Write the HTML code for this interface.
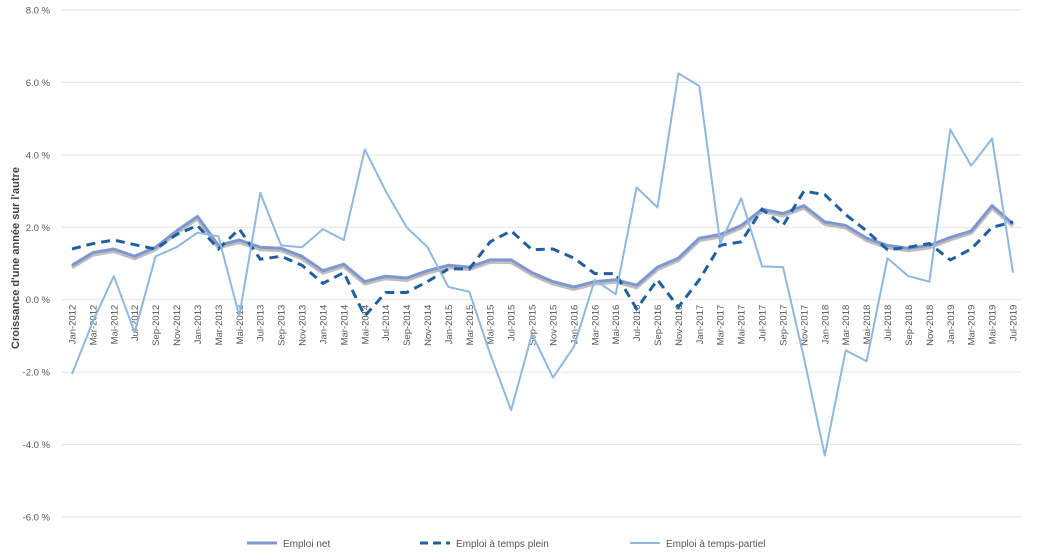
<!DOCTYPE html>
<html><head><meta charset="utf-8"><style>
body{margin:0;background:#fff;font-family:"Liberation Sans",sans-serif;}
svg text{font-family:"Liberation Sans",sans-serif;fill:#555;}
</style></head><body>
<svg id="chart" width="1041" height="555" viewBox="0 0 1041 555" xmlns="http://www.w3.org/2000/svg">
<g id="grid"></g>
<g id="yticks"></g>
<g id="xticks"></g>
<g id="series"></g>
<text transform="translate(19,258) rotate(-90)" text-anchor="middle" font-size="11" font-weight="bold" style="fill:#444">Croissance d'une année sur l'autre</text>
<g>
 <g><line x1="247" y1="543" x2="277" y2="543" stroke="#7f97d0" stroke-width="3"/><text x="283" y="547" font-size="10">Emploi net</text></g>
 <g><line x1="420" y1="543" x2="450" y2="543" stroke="#1f5fa0" stroke-width="3" stroke-dasharray="8,5"/><text x="456" y="547" font-size="10">Emploi à temps plein</text></g>
 <g><line x1="630" y1="543" x2="660" y2="543" stroke="#8fb8e0" stroke-width="2"/><text x="666" y="547" font-size="10">Emploi à temps-partiel</text></g>
</g>
</svg>
<script>
const categories=["Jan-2012","Mar-2012","Mai-2012","Jul-2012","Sep-2012","Nov-2012","Jan-2013","Mar-2013","Mai-2013","Jul-2013","Sep-2013","Nov-2013","Jan-2014","Mar-2014","Mai-2014","Jul-2014","Sep-2014","Nov-2014","Jan-2015","Mar-2015","Mai-2015","Jul-2015","Sep-2015","Nov-2015","Jan-2016","Mar-2016","Mai-2016","Jul-2016","Sep-2016","Nov-2016","Jan-2017","Mar-2017","Mai-2017","Jul-2017","Sep-2017","Nov-2017","Jan-2018","Mar-2018","Mai-2018","Jul-2018","Sep-2018","Nov-2018","Jan-2019","Mar-2019","Mai-2019","Jul-2019"];
const netValues=[0.95,1.3,1.4,1.2,1.45,1.9,2.3,1.5,1.65,1.45,1.42,1.2,0.8,0.98,0.5,0.65,0.6,0.8,0.95,0.9,1.1,1.1,0.75,0.5,0.35,0.5,0.55,0.4,0.9,1.15,1.7,1.8,2.05,2.5,2.38,2.6,2.15,2.05,1.7,1.5,1.42,1.5,1.72,1.9,2.6,2.1];
const fullTimeValues=[1.4,1.55,1.65,1.52,1.4,1.8,2.05,1.4,1.95,1.12,1.2,0.95,0.45,0.75,-0.45,0.2,0.2,0.5,0.85,0.85,1.6,1.9,1.38,1.4,1.15,0.72,0.72,-0.25,0.55,-0.2,0.55,1.5,1.6,2.5,2.05,3.0,2.9,2.35,1.9,1.38,1.45,1.55,1.1,1.4,2.0,2.15];
const partTimeValues=[-2.05,-0.6,0.65,-0.9,1.2,1.45,1.85,1.75,-0.45,2.95,1.5,1.45,1.95,1.65,4.15,3.0,2.0,1.45,0.35,0.22,-1.5,-3.05,-0.95,-2.15,-1.3,0.55,0.15,3.1,2.55,6.25,5.9,1.55,2.8,0.92,0.9,-1.6,-4.3,-1.4,-1.7,1.15,0.65,0.5,4.7,3.7,4.45,0.75];
const yTicks=[8,6,4,2,0,-2,-4,-6];
const NS="http://www.w3.org/2000/svg";
const x0=72,x1=1013,yTop=10,yBot=517,vMax=8,vMin=-6;
function xs(i){return x0+i*(x1-x0)/(categories.length-1);}
function ys(v){return yTop+(vMax-v)*(yBot-yTop)/(vMax-vMin);}
function mk(tag,attrs,parent){const e=document.createElementNS(NS,tag);for(const k in attrs)e.setAttribute(k,attrs[k]);parent.appendChild(e);return e;}
const grid=document.getElementById('grid'),yt=document.getElementById('yticks'),xt=document.getElementById('xticks'),ser=document.getElementById('series');
yTicks.forEach(v=>{
 const l=mk('line',{x1:62,x2:1022,y1:ys(v),y2:ys(v),stroke:'#e3e3e3','stroke-width':1},grid);
 
 
 const t=mk('text',{x:50,y:ys(v)+3.5,'text-anchor':'end','font-size':'9.5'},yt);
 t.textContent=v.toFixed(1)+' %';
 
 
});
categories.forEach((c,i)=>{
 const t=mk('text',{transform:`translate(${xs(i)+3.5},${ys(0)+5}) rotate(-90)`,'text-anchor':'end','font-size':'9.5'},xt);
 t.textContent=c;
 
 
});
function pts(arr){return arr.map((v,i)=>xs(i).toFixed(1)+','+ys(v).toFixed(1)).join(' ');}
const shadow=mk('polyline',{points:pts(netValues),fill:'none',stroke:'#bdbdbd','stroke-width':4,transform:'translate(0,2)','stroke-linejoin':'round'},ser);


const net=mk('polyline',{points:pts(netValues),fill:'none',stroke:'#7f97d0','stroke-width':3,'stroke-linejoin':'round'},ser);


const ft=mk('polyline',{points:pts(fullTimeValues),fill:'none',stroke:'#1f5fa0','stroke-width':3,'stroke-dasharray':'9,6'},ser);


const pt=mk('polyline',{points:pts(partTimeValues),fill:'none',stroke:'#8fb8e0','stroke-width':2,'stroke-linejoin':'round'},ser);


</script>
</body></html>
